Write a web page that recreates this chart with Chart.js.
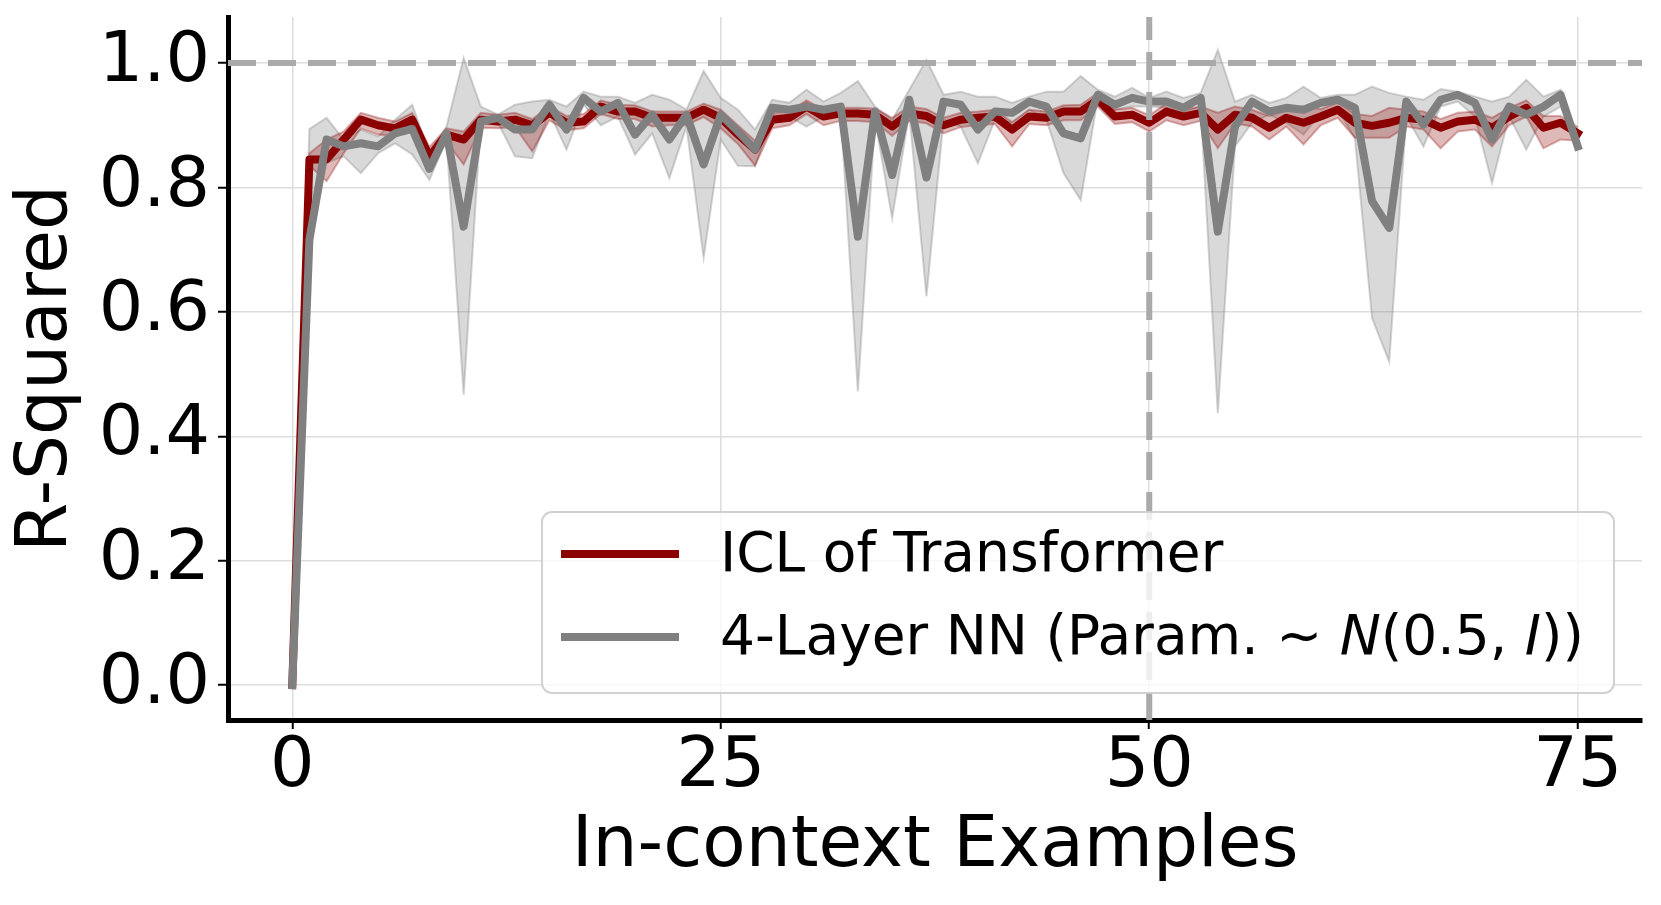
<!DOCTYPE html>
<html>
<head>
<meta charset="utf-8">
<script src="https://cdn.jsdelivr.net/npm/chart.js@4.4.1/dist/chart.umd.min.js"></script>
<style>
html,body{margin:0;padding:0;background:#ffffff;}
#wrap{width:1661px;height:905px;position:relative;background:#ffffff;}
</style>
</head>
<body>
<div id="wrap"><canvas id="c" width="1661" height="905"></canvas></div>
<script>
// ---------------- DATA ----------------
const examples = [0,1,2,3,4,5,6,7,8,9,10,11,12,13,14,15,16,17,18,19,20,21,22,23,24,25,26,27,28,29,30,31,32,33,34,35,36,37,38,39,40,41,42,43,44,45,46,47,48,49,50,51,52,53,54,55,56,57,58,59,60,61,62,63,64,65,66,67,68,69,70,71,72,73,74,75];

const iclMean = [0,0.845,0.845,0.877,0.909,0.900,0.895,0.909,0.850,0.885,0.877,0.909,0.906,0.909,0.900,0.920,0.904,0.906,0.930,0.922,
  0.922,0.912,0.912,0.912,0.925,0.912,0.885,0.861,0.909,0.912,0.930,0.914,0.919,0.919,0.917,0.898,0.919,0.915,0.900,0.909,
  0.912,0.914,0.893,0.914,0.912,0.922,0.922,0.941,0.914,0.917,0.904,0.922,0.914,0.920,0.893,0.917,0.912,0.896,0.912,0.904,
  0.914,0.925,0.904,0.899,0.904,0.912,0.909,0.896,0.906,0.909,0.896,0.914,0.928,0.896,0.904,0.887];
const iclLow = [0,0.835,0.810,0.855,0.895,0.885,0.882,0.895,0.840,0.873,0.837,0.896,0.895,0.897,0.858,0.908,0.892,0.895,0.918,0.910,
  0.910,0.898,0.900,0.900,0.913,0.895,0.870,0.835,0.895,0.900,0.918,0.900,0.907,0.907,0.905,0.883,0.907,0.903,0.887,0.897,
  0.900,0.902,0.866,0.902,0.900,0.908,0.908,0.930,0.902,0.905,0.890,0.908,0.900,0.907,0.863,0.903,0.898,0.877,0.898,0.869,
  0.900,0.912,0.880,0.880,0.880,0.898,0.893,0.863,0.890,0.893,0.866,0.900,0.914,0.863,0.877,0.875];
const iclHigh = [0,0.855,0.877,0.890,0.920,0.912,0.906,0.920,0.865,0.895,0.890,0.920,0.917,0.920,0.910,0.930,0.915,0.918,0.940,0.933,
  0.932,0.922,0.922,0.922,0.935,0.925,0.900,0.875,0.920,0.922,0.940,0.925,0.928,0.928,0.927,0.912,0.930,0.926,0.912,0.920,
  0.922,0.925,0.905,0.925,0.922,0.932,0.933,0.952,0.925,0.928,0.916,0.935,0.925,0.930,0.920,0.930,0.925,0.915,0.925,0.930,
  0.926,0.937,0.918,0.915,0.928,0.925,0.922,0.910,0.920,0.922,0.912,0.928,0.940,0.915,0.915,0.897];

const nnMean = [0,0.716,0.877,0.866,0.871,0.866,0.887,0.894,0.830,0.887,0.737,0.906,0.912,0.893,0.893,0.933,0.893,0.944,0.922,0.936,
  0.885,0.917,0.877,0.917,0.837,0.917,0.890,0.861,0.928,0.925,0.930,0.925,0.930,0.721,0.922,0.820,0.941,0.816,0.938,0.933,
  0.893,0.922,0.920,0.938,0.930,0.887,0.879,0.949,0.933,0.944,0.938,0.938,0.928,0.944,0.729,0.898,0.938,0.922,0.928,0.925,
  0.936,0.941,0.928,0.778,0.735,0.938,0.901,0.941,0.949,0.936,0.877,0.930,0.917,0.930,0.949,0.866];
const nnLow = [0,0.700,0.840,0.850,0.823,0.855,0.871,0.853,0.812,0.877,0.467,0.909,0.904,0.850,0.847,0.920,0.861,0.933,0.900,0.914,
  0.853,0.887,0.815,0.898,0.687,0.877,0.835,0.834,0.912,0.914,0.898,0.914,0.922,0.472,0.909,0.751,0.920,0.625,0.909,0.898,
  0.839,0.909,0.904,0.925,0.909,0.823,0.780,0.944,0.925,0.930,0.930,0.928,0.920,0.930,0.437,0.866,0.904,0.917,0.904,0.885,
  0.920,0.925,0.879,0.590,0.520,0.914,0.866,0.930,0.938,0.914,0.807,0.914,0.861,0.914,0.930,0.862];
const nnHigh = [0,0.894,0.912,0.877,0.893,0.882,0.909,0.933,0.855,0.898,1.008,0.930,0.917,0.933,0.938,0.941,0.930,0.954,0.946,0.946,
  0.936,0.949,0.941,0.925,0.987,0.944,0.925,0.893,0.941,0.936,0.957,0.938,0.952,0.971,0.930,0.909,0.957,1.005,0.949,0.954,
  0.946,0.946,0.936,0.946,0.954,0.954,0.979,0.957,0.946,0.960,0.944,0.954,0.944,0.952,1.021,0.938,0.949,0.936,0.944,0.962,
  0.944,0.949,0.949,0.962,0.952,0.946,0.941,0.958,0.954,0.946,0.938,0.946,0.973,0.946,0.957,0.870];

const xTicks = [0, 25, 50, 75];
const yTicks = [0.0, 0.2, 0.4, 0.6, 0.8, 1.0];
const refY = 1.0;   // horizontal reference line
const refX = 50;    // vertical reference line
const legendLabels = ['ICL of Transformer', '4-Layer NN (Param. ~ N(0.5, I))'];

// ---------------- CHART ----------------
const X_MIN = -3.75, X_MAX = 78.75, Y_MIN = -0.056, Y_MAX = 1.074;
const FONT = '"DejaVu Sans", "Liberation Sans", sans-serif';
const pts = arr => examples.map((x, i) => ({x: x, y: arr[i]}));

const RED = '#8b0000';
const GRAY = '#808080';

const datasets = [
  { label: 'hline', data: [{x: X_MIN, y: refY}, {x: X_MAX, y: refY}], borderColor: '#aaaaaa', borderWidth: 6,
    borderDash: [28, 12], pointRadius: 0, fill: false, order: 0 },
  { label: 'vline', data: [{x: refX, y: Y_MIN}, {x: refX, y: Y_MAX}], borderColor: '#aaaaaa', borderWidth: 6,
    borderDash: [28, 12], pointRadius: 0, fill: false, order: 0 },
  { label: legendLabels[1], data: pts(nnMean), borderColor: GRAY, borderWidth: 8, pointRadius: 0, fill: false,
    borderJoinStyle: 'round', borderCapStyle: 'square', order: 1 },
  { label: legendLabels[0], data: pts(iclMean), borderColor: RED, borderWidth: 8, pointRadius: 0, fill: false,
    borderJoinStyle: 'round', borderCapStyle: 'square', order: 2 },
  { label: 'icl_hi', data: pts(iclHigh), borderColor: 'rgba(139,0,0,0.3)', borderWidth: 2, pointRadius: 0,
    backgroundColor: 'rgba(139,0,0,0.28)', fill: 5, order: 3 },
  { label: 'icl_lo', data: pts(iclLow), borderColor: 'rgba(139,0,0,0.3)', borderWidth: 2, pointRadius: 0,
    fill: false, order: 3 },
  { label: 'nn_hi', data: pts(nnHigh), borderColor: 'rgba(128,128,128,0.35)', borderWidth: 2, pointRadius: 0,
    backgroundColor: 'rgba(128,128,128,0.3)', fill: 7, order: 4 },
  { label: 'nn_lo', data: pts(nnLow), borderColor: 'rgba(128,128,128,0.35)', borderWidth: 2, pointRadius: 0,
    fill: false, order: 4 }
];

const legendPlugin = {
  id: 'mplLegend',
  afterDraw(chart) {
    const {ctx, chartArea} = chart;
    const w = 1072, h = 181;
    const x0 = chartArea.right - 28 - w, y0 = chartArea.bottom - 27 - h;
    ctx.save();
    ctx.beginPath();
    ctx.roundRect(x0, y0, w, h, 10);
    ctx.fillStyle = 'rgba(255,255,255,0.8)';
    ctx.fill();
    ctx.lineWidth = 2;
    ctx.strokeStyle = 'rgba(204,204,204,0.9)';
    ctx.stroke();
    const rows = [
      { color: RED, parts: [{t: legendLabels[0]}] },
      { color: GRAY, parts: [{t: '4-Layer NN (Param. ~ '}, {t: 'N', it: true}, {t: '(0.5, '}, {t: 'I', it: true}, {t: '))'}] }
    ];
    rows.forEach((row, k) => {
      const cy = y0 + 42 + k * 83;
      ctx.beginPath();
      ctx.moveTo(x0 + 19, cy);
      ctx.lineTo(x0 + 137, cy);
      ctx.strokeStyle = row.color;
      ctx.lineWidth = 8;
      ctx.lineCap = 'butt';
      ctx.stroke();
      let tx = x0 + 178;
      ctx.textBaseline = 'middle';
      ctx.textAlign = 'left';
      ctx.fillStyle = '#000000';
      row.parts.forEach(p => {
        ctx.font = (p.it ? 'italic ' : '') + '55px ' + FONT;
        ctx.fillText(p.t, tx, cy + 3);
        tx += ctx.measureText(p.t).width;
      });
    });
    ctx.restore();
  }
};

new Chart(document.getElementById('c'), {
  type: 'line',
  data: { datasets: datasets },
  plugins: [legendPlugin],
  options: {
    responsive: false,
    animation: false,
    devicePixelRatio: 1,
    layout: { padding: { top: 17, right: 19, left: 0, bottom: 0 } },
    plugins: { legend: { display: false }, tooltip: { enabled: false } },
    elements: { line: { tension: 0 } },
    scales: {
      x: {
        type: 'linear', min: X_MIN, max: X_MAX,
        afterBuildTicks: s => { s.ticks = xTicks.map(v => ({value: v})); },
        afterFit: s => { s.height = 185; s.paddingLeft = 0; s.paddingRight = 0; },
        ticks: { callback: v => String(v), color: '#000', padding: 4, maxRotation: 0, autoSkip: false,
                 font: { family: FONT, size: 70, lineHeight: 1 } },
        grid: { color: '#dddddd', lineWidth: 1.5, drawTicks: true, tickLength: 9, tickColor: '#000', tickWidth: 2 },
        border: { display: true, color: '#000', width: 5 },
        title: { display: true, text: 'In-context Examples', color: '#000',
                 font: { family: FONT, size: 71, lineHeight: 1 }, padding: { top: 0, bottom: 22 } }
      },
      y: {
        type: 'linear', min: Y_MIN, max: Y_MAX,
        afterBuildTicks: s => { s.ticks = yTicks.map(v => ({value: v})); },
        afterFit: s => { s.width = 228; s.paddingTop = 0; s.paddingBottom = 0; },
        ticks: { callback: v => Number(v).toFixed(1), color: '#000', padding: 8, autoSkip: false,
                 font: { family: FONT, size: 70, lineHeight: 1 } },
        grid: { color: '#dddddd', lineWidth: 1.5, drawTicks: true, tickLength: 10, tickColor: '#000', tickWidth: 2 },
        border: { display: true, color: '#000', width: 5 },
        title: { display: true, text: 'R-Squared', color: '#000',
                 font: { family: FONT, size: 71, lineHeight: 1 }, padding: { top: 12, bottom: 0 } }
      }
    }
  }
});
</script>
</body>
</html>
